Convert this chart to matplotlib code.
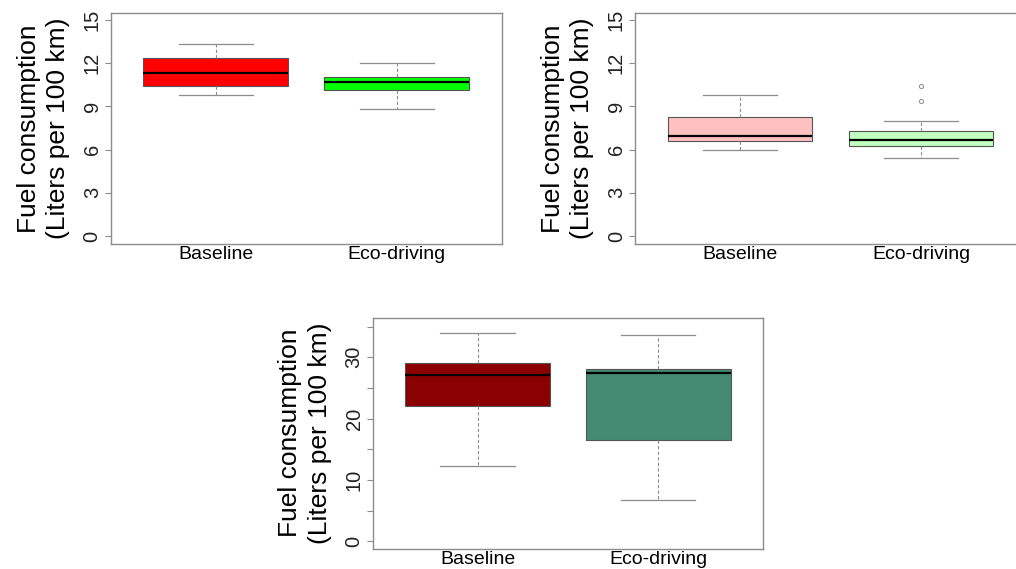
import matplotlib
matplotlib.use('Agg')
import matplotlib.pyplot as plt

plt.rcParams['font.family'] = ['Liberation Sans', 'DejaVu Sans']

groups = ['Baseline', 'Eco-driving']
ylabel = 'Fuel consumption\n(Liters per 100 km)'

# panel 1 (top left)
p1_q1 = [10.44, 10.12]
p1_med = [11.34, 10.69]
p1_q3 = [12.34, 11.06]
p1_lo = [9.77, 8.80]
p1_hi = [13.33, 11.99]
p1_fliers = [[], []]
p1_colors = ['#FF0000', '#00FF00']

# panel 2 (top right)
p2_q1 = [6.58, 6.25]
p2_med = [6.94, 6.67]
p2_q3 = [8.24, 7.27]
p2_lo = [5.95, 5.40]
p2_hi = [9.77, 7.96]
p2_fliers = [[], [9.40, 10.40]]
p2_colors = ['#FFC0C0', '#C0FFC0']

# panel 3 (bottom)
p3_q1 = [22.02, 16.48]
p3_med = [27.18, 27.50]
p3_q3 = [29.04, 28.16]
p3_lo = [12.28, 6.69]
p3_hi = [33.93, 33.65]
p3_fliers = [[], []]
p3_colors = ['#8B0000', '#458B74']

GRAY = '#8c8c8c'


def draw_panel(ax, q1, med, q3, lo, hi, fliers, colors, ylim, ticks, ticklabels):
    stats = []
    for i, g in enumerate(groups):
        stats.append({'label': g, 'q1': q1[i], 'med': med[i], 'q3': q3[i],
                      'whislo': lo[i], 'whishi': hi[i], 'fliers': fliers[i]})
    bp = ax.bxp(stats, positions=[1, 2], widths=0.8, patch_artist=True,
                showfliers=True, capwidths=0.41,
                boxprops=dict(edgecolor='#555555', linewidth=0.8),
                medianprops=dict(color='black', linewidth=1.6),
                whiskerprops=dict(color=GRAY, linewidth=0.8, linestyle=(0, (3, 2))),
                capprops=dict(color=GRAY, linewidth=0.9),
                flierprops=dict(marker='o', markersize=3, markerfacecolor='none',
                                markeredgecolor=GRAY, markeredgewidth=0.7))
    for patch, c in zip(bp['boxes'], colors):
        patch.set_facecolor(c)
    ax.set_xlim(0.42, 2.58)
    ax.set_ylim(*ylim)
    ax.set_yticks(ticks)
    ax.set_yticklabels(ticklabels, rotation=90, va='center', fontsize=14.5,
                       color='#222222')
    ax.tick_params(axis='y', length=4, width=0.8, color=GRAY, pad=2.5)
    ax.tick_params(axis='x', length=0, pad=1.5, labelsize=14)
    for s in ax.spines.values():
        s.set_color(GRAY)
        s.set_linewidth(1.0)
    ax.set_ylabel(ylabel, fontsize=19, labelpad=9, linespacing=1.3)


fig = plt.figure(figsize=(10.16, 5.69), dpi=100)
ax1 = fig.add_axes([0.1090, 0.5712, 0.3848, 0.4054])
ax2 = fig.add_axes([0.6250, 0.5712, 0.3848, 0.4054])
ax3 = fig.add_axes([0.3668, 0.0357, 0.3844, 0.4060])

t15 = [0, 3, 6, 9, 12, 15]
draw_panel(ax1, p1_q1, p1_med, p1_q3, p1_lo, p1_hi, p1_fliers, p1_colors,
           (-0.55, 15.45), t15, [str(t) for t in t15])
draw_panel(ax2, p2_q1, p2_med, p2_q3, p2_lo, p2_hi, p2_fliers, p2_colors,
           (-0.55, 15.45), t15, [str(t) for t in t15])
t35 = [0, 5, 10, 15, 20, 25, 30, 35]
draw_panel(ax3, p3_q1, p3_med, p3_q3, p3_lo, p3_hi, p3_fliers, p3_colors,
           (-1.2, 36.45), t35, [str(t) if t % 10 == 0 else '' for t in t35])

fig.savefig('out.png', dpi=100)
